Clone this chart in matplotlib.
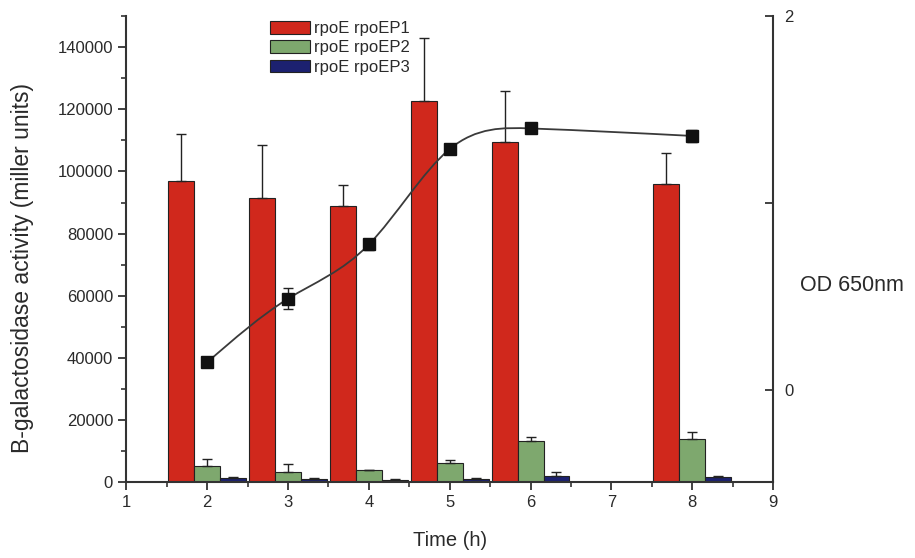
import numpy as np
import matplotlib
matplotlib.use("Agg")
import matplotlib.pyplot as plt
from matplotlib.path import Path
from matplotlib.patches import PathPatch, Patch
from matplotlib.ticker import MultipleLocator

plt.rcParams['font.family'] = ['Liberation Sans', 'DejaVu Sans']

# Data
hours = [2, 3, 4, 5, 6, 8]
p1_mean = [96800, 91400, 88800, 122800, 109400, 95900]
p1_err = [15300, 17100, 6800, 20300, 16400, 10100]
p2_mean = [5200, 3100, 3800, 6200, 13100, 13800]
p2_err = [2300, 2600, 0, 800, 1300, 2200]
p3_mean = [1400, 1000, 700, 1000, 2100, 1600]
p3_err = [300, 300, 200, 200, 1000, 300]
od_mean = [0.15, 0.49, 0.78, 1.29, 1.40, 1.36]
od_err = [0.0, 0.055, 0.03, 0.02, 0.01, 0.03]

red = '#d0281c'
green = '#7ea86e'
navy = '#1c2170'
txt = '#2a2a2a'

fig = plt.figure(figsize=(9.15, 5.58), dpi=100)
ax1 = fig.add_axes([0.138, 0.136, 0.707, 0.835])
ax2 = ax1.twinx()

x = np.array(hours, dtype=float)
w = 0.32
ekw = dict(elinewidth=1.0, capsize=3.5, capthick=1.0, ecolor='#222222')
ax1.bar(x - w, p1_mean, w, color=red, edgecolor='#222222', linewidth=0.8,
        yerr=[np.zeros(len(x)), p1_err], error_kw=ekw, label='rpoE rpoEP1')
ax1.bar(x, p2_mean, w, color=green, edgecolor='#222222', linewidth=0.8,
        yerr=[np.zeros(len(x)), p2_err], error_kw=ekw, label='rpoE rpoEP2')
ax1.bar(x + w, p3_mean, w, color=navy, edgecolor='#222222', linewidth=0.8,
        yerr=[np.zeros(len(x)), p3_err], error_kw=ekw, label='rpoE rpoEP3')

ax1.set_xlim(1, 9)
ax1.set_ylim(0, 150000)
ax1.set_xticks(range(1, 10))
ax1.xaxis.set_minor_locator(MultipleLocator(0.5))
ax1.set_yticks(range(0, 140001, 20000))
ax1.yaxis.set_minor_locator(MultipleLocator(10000))
ax1.tick_params(axis='both', which='major', direction='out', length=6, width=1.3,
                labelsize=12, colors='#333333', labelcolor=txt)
ax1.tick_params(axis='both', which='minor', direction='out', length=3.5, width=1.2,
                colors='#333333')
ax1.spines['top'].set_visible(False)
ax1.spines['right'].set_visible(False)
for s in ['left', 'bottom']:
    ax1.spines[s].set_linewidth(1.5)
    ax1.spines[s].set_color('#333333')
ax1.set_xlabel('Time (h)', fontsize=14.5, color=txt, labelpad=15)
ax1.set_ylabel('B-galactosidase activity (miller units)', fontsize=16.5, color=txt)
ax1.yaxis.set_label_coords(-0.143, 0.46)

# OD curve: natural cubic spline through the measured points, drawn as bezier path
y = np.array(od_mean)
h = np.diff(x)
n = len(x)
A = np.zeros((n, n))
r = np.zeros(n)
A[0, 0] = A[-1, -1] = 1
for i in range(1, n - 1):
    A[i, i - 1] = h[i - 1]
    A[i, i] = 2 * (h[i - 1] + h[i])
    A[i, i + 1] = h[i]
    r[i] = 6 * ((y[i + 1] - y[i]) / h[i] - (y[i] - y[i - 1]) / h[i - 1])
M = np.linalg.solve(A, r)
verts = [(x[0], y[0])]
codes = [Path.MOVETO]
for i in range(n - 1):
    sl = (y[i + 1] - y[i]) / h[i]
    d0 = sl - h[i] * (2 * M[i] + M[i + 1]) / 6
    d1 = sl + h[i] * (M[i] + 2 * M[i + 1]) / 6
    verts += [(x[i] + h[i] / 3, y[i] + d0 * h[i] / 3),
              (x[i + 1] - h[i] / 3, y[i + 1] - d1 * h[i] / 3),
              (x[i + 1], y[i + 1])]
    codes += [Path.CURVE4] * 3
ax2.add_patch(PathPatch(Path(verts, codes), facecolor='none', edgecolor='#3a3a3a', lw=1.3))
ax2.errorbar(x, od_mean, yerr=od_err, fmt='s', color='#111111', ms=8,
             ecolor='#222222', elinewidth=1.0, capsize=3.5, capthick=1.0)

ax2.set_ylim(-0.49, 2)
ax2.set_yticks([0, 1, 2])
ax2.set_yticklabels(['0', '', '2'])
ax2.tick_params(axis='y', direction='in', length=6, width=1.3, labelsize=12,
                colors='#333333', labelcolor=txt, pad=8)
ax2.spines['top'].set_visible(False)
ax2.spines['left'].set_visible(False)
ax2.spines['bottom'].set_visible(False)
ax2.spines['right'].set_linewidth(1.5)
ax2.spines['right'].set_color('#333333')
ax2.set_ylabel('OD 650nm', rotation=0, fontsize=15.5, color=txt, ha='left', va='center')
ax2.yaxis.set_label_coords(1.042, 0.423)

handles = [Patch(facecolor=red, edgecolor='#222222', lw=0.8),
           Patch(facecolor=green, edgecolor='#222222', lw=0.8),
           Patch(facecolor=navy, edgecolor='#222222', lw=0.8)]
ax1.legend(handles, ['rpoE rpoEP1', 'rpoE rpoEP2', 'rpoE rpoEP3'], loc='upper left',
           bbox_to_anchor=(0.222, 0.99), frameon=False, fontsize=12,
           handlelength=2.4, handleheight=0.8, handletextpad=0.25,
           labelspacing=0.25, borderpad=0, borderaxespad=0, labelcolor=txt)

fig.savefig('out.png', dpi=100)
